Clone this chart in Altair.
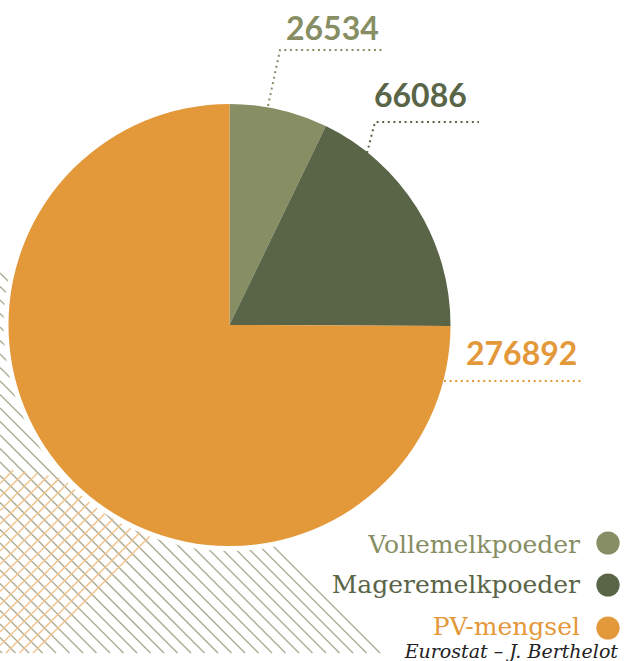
import altair as alt
import pandas as pd
import numpy as np

# ---- data ----
categories = ["Vollemelkpoeder", "Mageremelkpoeder", "PV-mengsel"]
values = [26534, 66086, 276892]
value_labels = ["26534", "66086", "276892"]
colors = ["#878e63", "#5a6447", "#e3983a"]
source_text = "Eurostat – J. Berthelot"

# ---- layout ----
W, H = 625, 661
CX, CY, R = 229.5, 325, 221

xs = alt.Scale(domain=[0, W], nice=False, zero=False)
ys = alt.Scale(domain=[0, H], nice=False, zero=False, reverse=True)

# decorative hatching (background ornament)
step = 13.5
gray_rows = []
c = 273.0
while c < 653:
    gray_rows.append({"x": 0, "y": c, "x2": 653 - c, "y2": 653})
    c += step
gray_df = pd.DataFrame(gray_rows)

orange_rows = []
ocx, ocy, orr = 0.0, 690.0, 220.0
c = 470.0
while c <= 690:
    if c <= 653:
        x0, y0 = 0.0, c
    else:
        x0, y0 = c - 653, 653.0
    d = c - ocy
    disc = 2 * orr ** 2 - d ** 2
    if disc > 0:
        x1 = (d + np.sqrt(disc)) / 2
        y1 = c - x1
        if x1 > x0:
            orange_rows.append({"x": x0, "y": y0, "x2": x1, "y2": y1})
    c += step
orange_df = pd.DataFrame(orange_rows)

gray = alt.Chart(gray_df).mark_rule(color="#aeae98", strokeWidth=1.5).encode(
    x=alt.X("x:Q", scale=xs, axis=None), y=alt.Y("y:Q", scale=ys, axis=None),
    x2="x2:Q", y2="y2:Q")
orange = alt.Chart(orange_df).mark_rule(color="#f3c48c", strokeWidth=1.5).encode(
    x=alt.X("x:Q", scale=xs, axis=None), y=alt.Y("y:Q", scale=ys, axis=None),
    x2="x2:Q", y2="y2:Q")

pie_df = pd.DataFrame({"cat": categories, "value": values, "order": list(range(len(values)))})
color_scale = alt.Scale(domain=categories, range=colors)

halo = alt.Chart(pd.DataFrame({"a": [1]})).mark_arc(
    radius=226, theta=0, theta2=6.2832, color="white").encode(
    x=alt.value(CX), y=alt.value(CY))

pie = alt.Chart(pie_df).mark_arc(radius=R, stroke=None).encode(
    theta=alt.Theta("value:Q", stack=True),
    order=alt.Order("order:Q"),
    color=alt.Color("cat:N", scale=color_scale, legend=None),
    x=alt.value(CX), y=alt.value(CY))

# leader lines (annotation)
lead_df = pd.DataFrame([
    {"seg": 0, "x": 268, "y": 106, "col": colors[0]},
    {"seg": 0, "x": 280, "y": 50, "col": colors[0]},
    {"seg": 0, "x": 384, "y": 50, "col": colors[0]},
    {"seg": 1, "x": 367, "y": 153, "col": colors[1]},
    {"seg": 1, "x": 375, "y": 122, "col": colors[1]},
    {"seg": 1, "x": 479, "y": 122, "col": colors[1]},
    {"seg": 2, "x": 444, "y": 381, "col": colors[2]},
    {"seg": 2, "x": 584, "y": 381, "col": colors[2]},
])
lead_df["i"] = range(len(lead_df))
leaders = alt.Chart(lead_df).mark_line(strokeWidth=2, strokeDash=[2, 3.6], strokeCap="butt").encode(
    x=alt.X("x:Q", scale=xs, axis=None), y=alt.Y("y:Q", scale=ys, axis=None),
    detail="seg:N", order="i:Q", color=alt.Color("col:N", scale=None))

lab_df = pd.DataFrame({
    "t": value_labels, "col": colors,
    "x": [286, 374, 466], "y": [40, 107, 365]})
labels = alt.Chart(lab_df).mark_text(
    font="Lato", fontSize=32, fontWeight="bold", align="left", baseline="alphabetic").encode(
    x=alt.X("x:Q", scale=xs, axis=None), y=alt.Y("y:Q", scale=ys, axis=None),
    text="t:N", color=alt.Color("col:N", scale=None))

leg_df = pd.DataFrame({"t": categories, "col": colors, "y": [553, 593, 635], "yc": [543, 585, 628]})
leg_text = alt.Chart(leg_df).mark_text(
    font="DejaVu Serif", fontSize=25, align="right", baseline="alphabetic").encode(
    x=alt.value(580), y=alt.Y("y:Q", scale=ys, axis=None),
    text="t:N", color=alt.Color("col:N", scale=None))
leg_dot = alt.Chart(leg_df).mark_circle(size=540, opacity=1).encode(
    x=alt.value(608), y=alt.Y("yc:Q", scale=ys, axis=None),
    color=alt.Color("col:N", scale=None))

src = alt.Chart(pd.DataFrame({"t": [source_text]})).mark_text(
    font="DejaVu Serif", fontSize=19, fontStyle="italic", align="right",
    baseline="alphabetic", color="#222222").encode(
    x=alt.value(618), y=alt.value(658), text="t:N")

chart = alt.layer(gray, orange, halo, pie, leaders, labels, leg_text, leg_dot, src).properties(
    width=W, height=H, padding=0,
    autosize=alt.AutoSizeParams(type="none"),
    background="white",
).configure_view(stroke=None)

chart.save("out.html", embed_options={"renderer": "svg", "actions": False})
